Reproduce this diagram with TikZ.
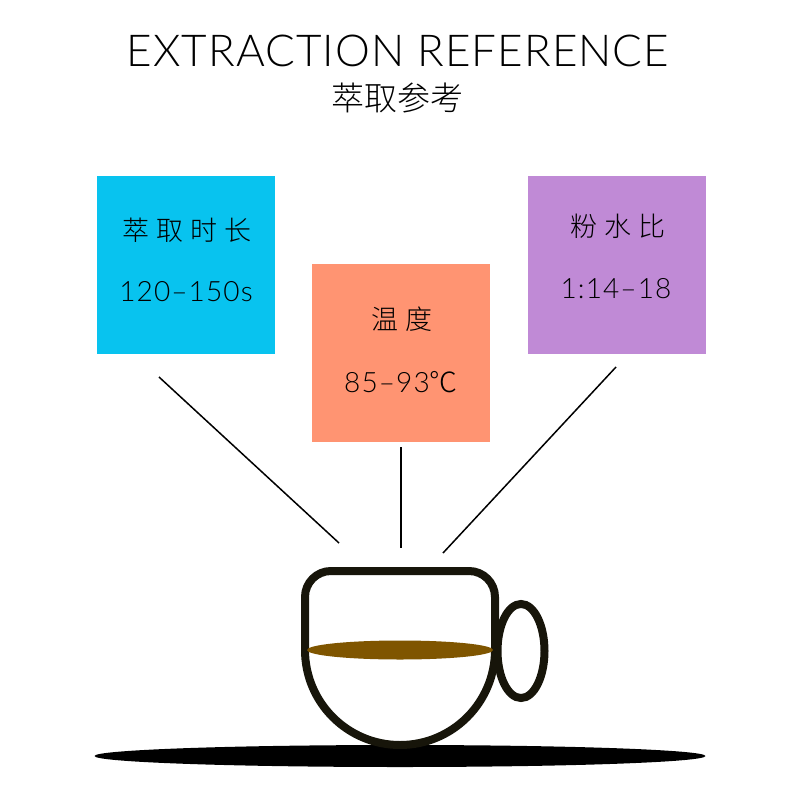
\documentclass[tikz,border=0pt]{standalone}
\usepackage{fontspec}
\usetikzlibrary{positioning,shapes.geometric}
\setmainfont{Lato Light}
\newfontfamily\titlefont[LetterSpace=2.4]{Lato Light}
\newfontfamily\valfont[LetterSpace=4]{Lato Light}
\newfontfamily\cjkfont{Noto Sans CJK SC Light}
\newfontfamily\cjkwide[LetterSpace=26]{Noto Sans CJK SC Light}
\definecolor{TimeBG}{HTML}{08C3EF}
\definecolor{TempBG}{HTML}{FF9472}
\definecolor{RatioBG}{HTML}{C08AD6}
\definecolor{CupCol}{HTML}{17150A}
\definecolor{BrewCol}{HTML}{7F5500}
\begin{document}
\begin{tikzpicture}[x=1pt,y=-1pt,
  card/.style={minimum size=178pt, inner sep=0pt, draw=none},
  cardhead/.style={inner sep=0pt, font=\fontsize{27}{27}\selectfont\cjkwide},
  cardval/.style={inner sep=0pt, font=\fontsize{28}{28}\selectfont\valfont},
  ray/.style={draw=black, line width=1.5pt}]
  \useasboundingbox (0,0) rectangle (800,800);
  \node[inner sep=0pt, font=\fontsize{44}{44}\selectfont\titlefont] (title) at (398,51) {EXTRACTION REFERENCE};
  \node[inner sep=0pt, font=\fontsize{33}{33}\selectfont\cjkfont] (subtitle) at (397,98) {萃取参考};

  \node[card,fill=TimeBG]  (time)  at (186,265) {};
  \node[card,fill=TempBG]  (temp)  at (401,353) {};
  \node[card,fill=RatioBG] (ratio) at (617,265) {};
  \node[cardhead] (timehead)  at (187,230) {萃取时长};
  \node[cardval]  (timeval)   at (186,292) {120–150s};
  \node[cardhead] (temphead)  at (402,319) {温度};
  \node[cardval]  (tempval)   at (401,382) {85–93{\cjkfont ℃}};
  \node[cardhead] (ratiohead) at (618,226) {粉水比};
  \node[cardval]  (ratioval)  at (616,289) {1:14–18};

  \node[ellipse,fill=black,minimum width=611pt,minimum height=22pt,inner sep=0pt] (table) at (400,756) {};
  \node[ellipse,draw=CupCol,line width=8pt,minimum width=47pt,minimum height=94pt,inner sep=0pt] (handle) at (521,651) {};
  \draw[CupCol,line width=8pt,fill=white,line join=round]
    (305,650) -- (305,597) arc[start angle=180,end angle=270,radius=26]
    -- (469,571) arc[start angle=270,end angle=360,radius=26]
    -- (495,650) arc[start angle=0,end angle=180,radius=95] -- cycle;
  \node[ellipse,fill=BrewCol,minimum width=186pt,minimum height=19pt,inner sep=0pt] (brew) at (400,650) {};

  \coordinate (timefoot)  at (159,377);
  \coordinate (tempfoot)  at (401,447);
  \coordinate (ratiofoot) at (616,367);
  \coordinate (timeend)   at (339,543);
  \coordinate (tempend)   at (401,548);
  \coordinate (ratioend)  at (443,553);
  \draw[ray] (timefoot) -- (timeend);
  \draw[ray] (tempfoot) -- (tempend);
  \draw[ray] (ratiofoot) -- (ratioend);
\end{tikzpicture}
\end{document}
